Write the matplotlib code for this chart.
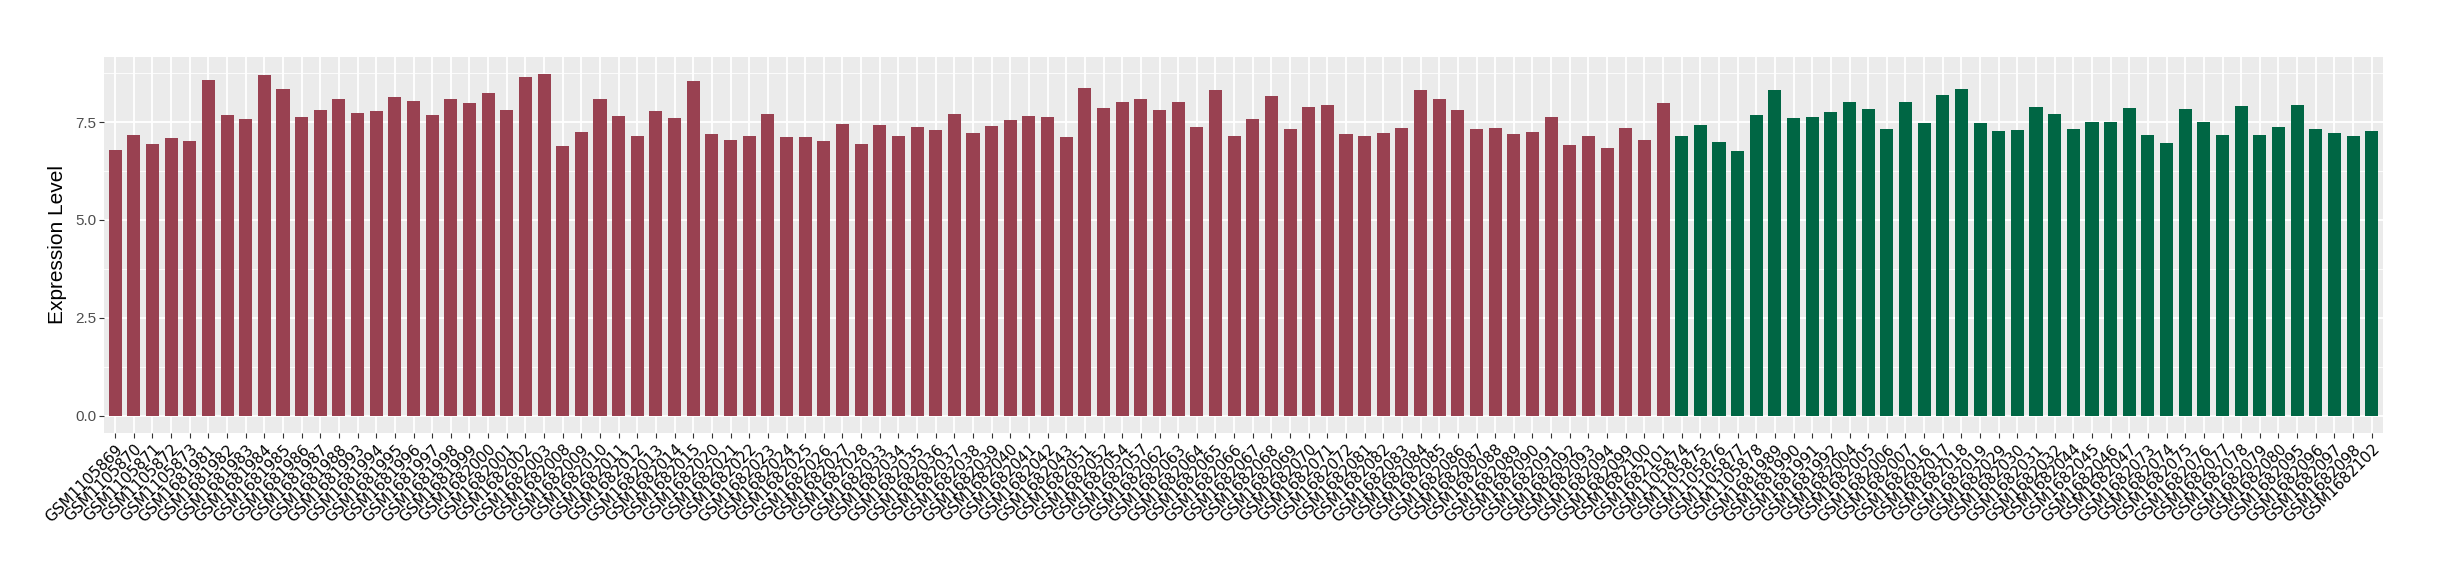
import numpy as np
import matplotlib
matplotlib.use("Agg")
import matplotlib.pyplot as plt
from matplotlib.ticker import MultipleLocator

group1_samples = [
    "GSM1105869", "GSM1105870", "GSM1105871", "GSM1105872", "GSM1105873",
    "GSM1681981", "GSM1681982", "GSM1681983", "GSM1681984", "GSM1681985",
    "GSM1681986", "GSM1681987", "GSM1681988", "GSM1681993", "GSM1681994",
    "GSM1681995", "GSM1681996", "GSM1681997", "GSM1681998", "GSM1681999",
    "GSM1682000", "GSM1682001", "GSM1682002", "GSM1682003", "GSM1682008",
    "GSM1682009", "GSM1682010", "GSM1682011", "GSM1682012", "GSM1682013",
    "GSM1682014", "GSM1682015", "GSM1682020", "GSM1682021", "GSM1682022",
    "GSM1682023", "GSM1682024", "GSM1682025", "GSM1682026", "GSM1682027",
    "GSM1682028", "GSM1682033", "GSM1682034", "GSM1682035", "GSM1682036",
    "GSM1682037", "GSM1682038", "GSM1682039", "GSM1682040", "GSM1682041",
    "GSM1682042", "GSM1682043", "GSM1682051", "GSM1682052", "GSM1682054",
    "GSM1682057", "GSM1682062", "GSM1682063", "GSM1682064", "GSM1682065",
    "GSM1682066", "GSM1682067", "GSM1682068", "GSM1682069", "GSM1682070",
    "GSM1682071", "GSM1682072", "GSM1682081", "GSM1682082", "GSM1682083",
    "GSM1682084", "GSM1682085", "GSM1682086", "GSM1682087", "GSM1682088",
    "GSM1682089", "GSM1682090", "GSM1682091", "GSM1682092", "GSM1682093",
    "GSM1682094", "GSM1682099", "GSM1682100", "GSM1682101",
]
group1_values = [
    6.79, 7.17, 6.94, 7.10, 7.02, 8.58, 7.69, 7.58, 8.71, 8.35,
    7.63, 7.81, 8.09, 7.74, 7.79, 8.15, 8.04, 7.69, 8.10, 7.99,
    8.25, 7.81, 8.66, 8.73, 6.90, 7.25, 8.10, 7.66, 7.15, 7.79,
    7.61, 8.56, 7.20, 7.05, 7.15, 7.71, 7.13, 7.13, 7.02, 7.46,
    6.95, 7.43, 7.15, 7.38, 7.30, 7.71, 7.23, 7.41, 7.56, 7.66,
    7.64, 7.13, 8.38, 7.87, 8.02, 8.10, 7.81, 8.02, 7.38, 8.33,
    7.15, 7.59, 8.17, 7.33, 7.89, 7.94, 7.20, 7.15, 7.23, 7.36,
    8.33, 8.10, 7.81, 7.33, 7.36, 7.20, 7.25, 7.64, 6.92, 7.15,
    6.84, 7.36, 7.05, 7.99,
]

group2_samples = [
    "GSM1105874", "GSM1105875", "GSM1105876", "GSM1105877", "GSM1105878",
    "GSM1681989", "GSM1681990", "GSM1681991", "GSM1681992", "GSM1682004",
    "GSM1682005", "GSM1682006", "GSM1682007", "GSM1682016", "GSM1682017",
    "GSM1682018", "GSM1682019", "GSM1682029", "GSM1682030", "GSM1682031",
    "GSM1682032", "GSM1682044", "GSM1682045", "GSM1682046", "GSM1682047",
    "GSM1682073", "GSM1682074", "GSM1682075", "GSM1682076", "GSM1682077",
    "GSM1682078", "GSM1682079", "GSM1682080", "GSM1682095", "GSM1682096",
    "GSM1682097", "GSM1682098", "GSM1682102",
]
group2_values = [
    7.15, 7.43, 7.00, 6.77, 7.69, 8.33, 7.61, 7.64, 7.76, 8.02,
    7.84, 7.33, 8.02, 7.48, 8.20, 8.35, 7.48, 7.28, 7.30, 7.89,
    7.71, 7.33, 7.51, 7.51, 7.87, 7.18, 6.97, 7.84, 7.51, 7.18,
    7.92, 7.18, 7.38, 7.94, 7.33, 7.23, 7.15, 7.28,
]

color1 = "#994151"
color2 = "#006644"

samples = group1_samples + group2_samples
values = group1_values + group2_values
colors = [color1] * len(group1_samples) + [color2] * len(group2_samples)
x = np.arange(len(samples))

plt.rcParams['font.family'] = ['Liberation Sans', 'DejaVu Sans']

fig = plt.figure(figsize=(24.4, 5.8), dpi=100)
ax = fig.add_axes([0.0426, 0.254, 0.934, 0.648])
ax.set_facecolor("#EBEBEB")

ax.bar(x, values, width=0.7, color=colors, zorder=3)

vmax = max(values)
ax.set_xlim(-0.6, len(samples) - 1 + 0.6)
ax.set_ylim(-0.05 * vmax, 1.05 * vmax)

ax.yaxis.set_major_locator(MultipleLocator(2.5))
ax.yaxis.set_minor_locator(MultipleLocator(1.25))
ax.yaxis.set_major_formatter(matplotlib.ticker.FormatStrFormatter('%.1f'))
ax.grid(which='major', axis='both', color='white', linewidth=1.3, zorder=1)
ax.grid(which='minor', axis='y', color='white', linewidth=0.6, zorder=1)
ax.set_axisbelow(True)

ax.set_xticks(x)
ax.set_xticklabels(samples, rotation=45, ha='right', va='top',
                   rotation_mode='anchor', fontsize=11, family='DejaVu Sans',
                   color='black')
ax.tick_params(axis='x', length=3.5, width=0.8, color='#333333', pad=3)
ax.tick_params(axis='y', which='major', length=3.5, width=0.8, color='#333333',
               labelsize=11, labelcolor='#4D4D4D', pad=2)
ax.tick_params(axis='y', which='minor', length=0)

for s in ax.spines.values():
    s.set_visible(False)

ax.set_ylabel("Expression Level", fontsize=15, labelpad=6)

fig.savefig("out.png", dpi=100)
